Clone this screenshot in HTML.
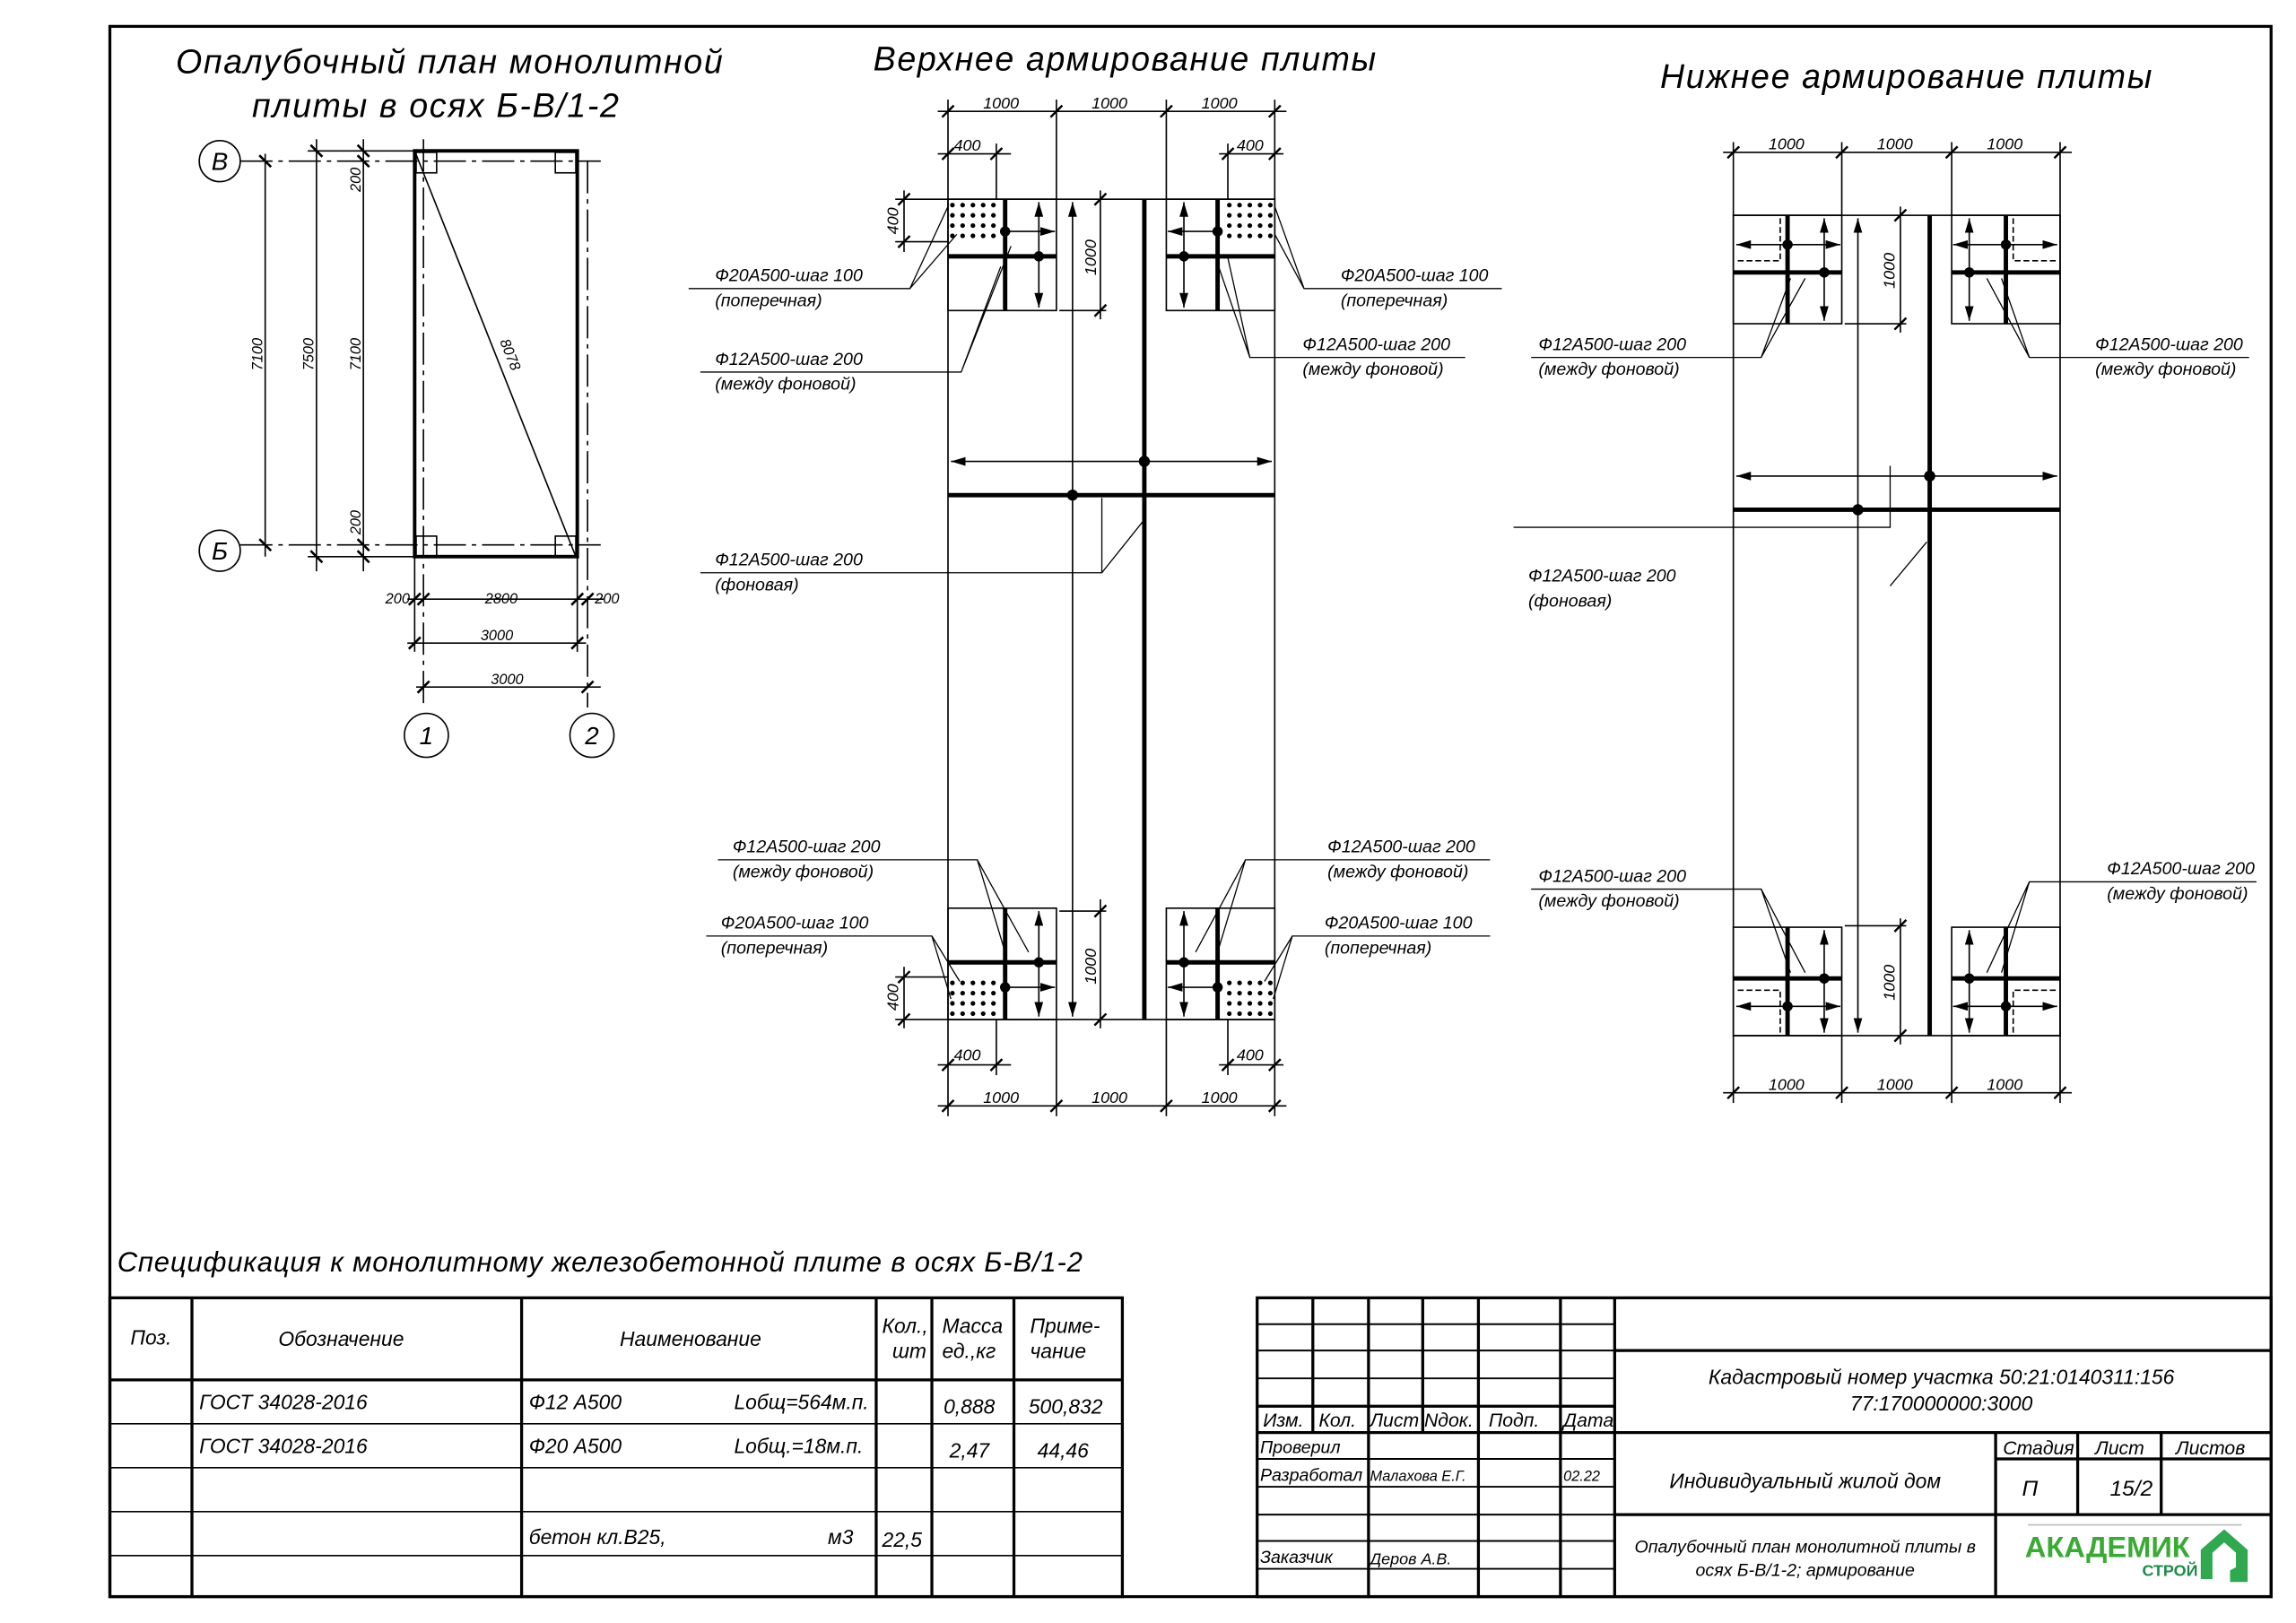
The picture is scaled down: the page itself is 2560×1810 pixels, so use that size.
<!DOCTYPE html>
<html><head><meta charset="utf-8"><style>
html,body{margin:0;padding:0;background:#fff}
svg{display:block}
text{font-family:"Liberation Sans",sans-serif;font-style:italic;fill:#000}
.t{font-size:12px}
.d{font-size:11px}
.h{font-size:23px;letter-spacing:1px}
.s{font-size:14px}
.r{font-family:"Liberation Serif",serif;font-style:normal;font-size:13px}
</style></head><body>
<svg width="2560" height="1810" viewBox="0 0 1567 1108" preserveAspectRatio="none" xmlns="http://www.w3.org/2000/svg">
<defs>
<marker id="a" viewBox="0 0 10 6" refX="10" refY="3" markerWidth="10" markerHeight="6" orient="auto-start-reverse" markerUnits="userSpaceOnUse"><path d="M0,0L10,3L0,6z"/></marker>
<g id="cm">
<rect x="647" y="136" width="74" height="76" fill="none" stroke="#000" stroke-width="1"/>
<g fill="#000">
<circle cx="650" cy="140" r="1.6"/><circle cx="657" cy="140" r="1.6"/><circle cx="664" cy="140" r="1.6"/><circle cx="671" cy="140" r="1.6"/><circle cx="678" cy="140" r="1.6"/>
<circle cx="650" cy="147" r="1.6"/><circle cx="657" cy="147" r="1.6"/><circle cx="664" cy="147" r="1.6"/><circle cx="671" cy="147" r="1.6"/><circle cx="678" cy="147" r="1.6"/>
<circle cx="650" cy="154" r="1.6"/><circle cx="657" cy="154" r="1.6"/><circle cx="664" cy="154" r="1.6"/><circle cx="671" cy="154" r="1.6"/><circle cx="678" cy="154" r="1.6"/>
<circle cx="650" cy="161" r="1.6"/><circle cx="657" cy="161" r="1.6"/><circle cx="664" cy="161" r="1.6"/><circle cx="671" cy="161" r="1.6"/><circle cx="678" cy="161" r="1.6"/>
<circle cx="686" cy="158" r="3.5"/><circle cx="709" cy="175" r="3.5"/></g>
<line x1="686" y1="136" x2="686" y2="212" stroke="#000" stroke-width="3"/>
<line x1="647" y1="175" x2="721" y2="175" stroke="#000" stroke-width="3"/>
<line x1="709" y1="138" x2="709" y2="210" stroke="#000" stroke-width="1" marker-start="url(#a)" marker-end="url(#a)"/>
<line x1="686" y1="158" x2="720" y2="158" stroke="#000" stroke-width="1" marker-end="url(#a)"/>
</g>
<g id="cr">
<rect x="1183" y="147" width="74" height="74" fill="none" stroke="#000" stroke-width="1"/>
<path d="M1215,149V178H1185" fill="none" stroke="#000" stroke-dasharray="4,2"/>
<line x1="1220" y1="147" x2="1220" y2="221" stroke="#000" stroke-width="3"/>
<line x1="1183" y1="186" x2="1257" y2="186" stroke="#000" stroke-width="3"/>
<circle cx="1220" cy="167" r="3.5"/><circle cx="1245" cy="186" r="3.5"/>
<line x1="1245" y1="149" x2="1245" y2="219" stroke="#000" marker-start="url(#a)" marker-end="url(#a)"/>
<line x1="1185" y1="167" x2="1256" y2="167" stroke="#000" marker-start="url(#a)" marker-end="url(#a)"/>
</g>
</defs>

<rect x="75" y="18" width="1475" height="1072" fill="none" stroke="#000" stroke-width="2"/>

<!-- LEFT DRAWING -->
<text class="h" x="120" y="50">Опалубочный план монолитной</text>
<text class="h" x="172" y="80">плиты в осях Б-В/1-2</text>
<g stroke="#000" fill="none" stroke-width="1">
<rect x="283" y="103" width="111" height="277" stroke-width="2.4"/>
<line x1="164" y1="110" x2="410" y2="110" stroke-dasharray="22,4,3,4"/>
<line x1="164" y1="372" x2="410" y2="372" stroke-dasharray="22,4,3,4"/>
<line x1="289" y1="95" x2="289" y2="483" stroke-dasharray="22,4,3,4"/>
<line x1="401" y1="110" x2="401" y2="483" stroke-dasharray="22,4,3,4"/>
<circle cx="150" cy="110" r="14"/><circle cx="150" cy="376" r="14"/>
<circle cx="291" cy="502" r="15"/><circle cx="404" cy="502" r="15"/>
<rect x="284" y="104" width="14" height="14"/><rect x="379" y="104" width="14" height="14"/>
<rect x="284" y="366" width="14" height="14"/><rect x="379" y="366" width="14" height="14"/>
<line x1="283" y1="103" x2="393" y2="380"/>
<line x1="181" y1="105" x2="181" y2="380"/>
<line x1="216" y1="95" x2="216" y2="390"/>
<line x1="248" y1="95" x2="248" y2="390"/>
<line x1="210" y1="103" x2="283" y2="103"/>
<line x1="210" y1="380" x2="283" y2="380"/>
<line x1="283" y1="380" x2="283" y2="445"/><line x1="394" y1="380" x2="394" y2="445"/>
<line x1="278" y1="409" x2="412" y2="409"/>
<line x1="278" y1="439" x2="400" y2="439"/>
<line x1="284" y1="469" x2="410" y2="469"/>
</g>
<g stroke="#000" stroke-width="1.6">
<path d="M177,106l8,8M177,368l8,8M212,99l8,8M212,376l8,8M244,99l8,8M244,106l8,8M244,368l8,8M244,376l8,8M279,413l8,-8M285,413l8,-8M390,413l8,-8M397,413l8,-8M279,443l8,-8M390,443l8,-8M285,473l8,-8M397,473l8,-8"/>
</g>
<text class="t" x="150" y="116" text-anchor="middle" style="font-size:17px">В</text>
<text class="t" x="150" y="382" text-anchor="middle" style="font-size:17px">Б</text>
<text class="t" x="291" y="508" text-anchor="middle" style="font-size:17px">1</text>
<text class="t" x="404" y="508" text-anchor="middle" style="font-size:17px">2</text>
<g class="d">
<text transform="translate(179,253) rotate(-90)" font-size="10">7100</text>
<text transform="translate(214,253) rotate(-90)" font-size="10">7500</text>
<text transform="translate(246,253) rotate(-90)" font-size="10">7100</text>
<text transform="translate(246,131) rotate(-90)" font-size="10">200</text>
<text transform="translate(246,365) rotate(-90)" font-size="10">200</text>
<text transform="translate(341,233) rotate(68)" font-size="10">8078</text>
<text x="263" y="412" font-size="10">200</text><text x="331" y="412" font-size="10">2800</text><text x="406" y="412" font-size="10">200</text>
<text x="328" y="437" font-size="10">3000</text><text x="335" y="467" font-size="10">3000</text>
</g>

<!-- MIDDLE DRAWING -->
<text class="h" x="596" y="48">Верхнее армирование плиты</text>
<g stroke="#000" fill="none">
<rect x="647" y="136" width="223" height="560"/>
<line x1="647" y1="68" x2="647" y2="136"/><line x1="721" y1="68" x2="721" y2="136"/><line x1="796" y1="68" x2="796" y2="136"/><line x1="870" y1="68" x2="870" y2="136"/>
<line x1="680" y1="98" x2="680" y2="136"/><line x1="838" y1="98" x2="838" y2="136"/>
<line x1="640" y1="76" x2="878" y2="76"/><line x1="640" y1="105" x2="690" y2="105"/><line x1="832" y1="105" x2="876" y2="105"/>
<line x1="647" y1="696" x2="647" y2="762"/><line x1="721" y1="696" x2="721" y2="762"/><line x1="796" y1="696" x2="796" y2="762"/><line x1="870" y1="696" x2="870" y2="762"/>
<line x1="680" y1="696" x2="680" y2="734"/><line x1="838" y1="696" x2="838" y2="734"/>
<line x1="640" y1="755" x2="878" y2="755"/><line x1="640" y1="727" x2="690" y2="727"/><line x1="832" y1="727" x2="876" y2="727"/>
<line x1="611" y1="136" x2="647" y2="136"/><line x1="611" y1="165" x2="647" y2="165"/><line x1="617" y1="130" x2="617" y2="172"/>
<line x1="611" y1="696" x2="647" y2="696"/><line x1="611" y1="667" x2="647" y2="667"/><line x1="617" y1="660" x2="617" y2="702"/>
<line x1="751" y1="130" x2="751" y2="218"/><line x1="723" y1="212" x2="755" y2="212"/>
<line x1="751" y1="614" x2="751" y2="702"/><line x1="723" y1="622" x2="755" y2="622"/>
<line x1="732" y1="138" x2="732" y2="694" marker-start="url(#a)" marker-end="url(#a)"/>
<line x1="649" y1="315" x2="868" y2="315" marker-start="url(#a)" marker-end="url(#a)"/>
</g>
<line x1="781" y1="136" x2="781" y2="696" stroke="#000" stroke-width="3"/>
<line x1="647" y1="338" x2="870" y2="338" stroke="#000" stroke-width="3"/>
<circle cx="781" cy="315" r="3.8"/><circle cx="732" cy="338" r="3.8"/>
<use href="#cm"/>
<use href="#cm" transform="matrix(-1 0 0 1 1517 0)"/>
<use href="#cm" transform="matrix(1 0 0 -1 0 832)"/>
<use href="#cm" transform="matrix(-1 0 0 -1 1517 832)"/>
<g stroke="#000" stroke-width="1.5">
<path d="M643,80l8,-8M717,80l8,-8M792,80l8,-8M866,80l8,-8M643,109l8,-8M676,109l8,-8M834,109l8,-8M866,109l8,-8M643,759l8,-8M717,759l8,-8M792,759l8,-8M866,759l8,-8M643,731l8,-8M676,731l8,-8M834,731l8,-8M866,731l8,-8M613,140l8,-8M613,169l8,-8M613,700l8,-8M613,671l8,-8M747,140l8,-8M747,216l8,-8M747,626l8,-8M747,700l8,-8"/>
</g>
<g class="d">
<text x="671" y="74">1000</text><text x="745" y="74">1000</text><text x="820" y="74">1000</text>
<text x="651" y="103">400</text><text x="844" y="103">400</text>
<text x="671" y="753">1000</text><text x="745" y="753">1000</text><text x="820" y="753">1000</text>
<text x="651" y="724">400</text><text x="844" y="724">400</text>
<text transform="translate(613,160) rotate(-90)">400</text>
<text transform="translate(613,690) rotate(-90)">400</text>
<text transform="translate(748,188) rotate(-90)">1000</text>
<text transform="translate(748,672) rotate(-90)">1000</text>
</g>
<g stroke="#000" fill="none" stroke-width="0.8">
<path d="M470,197H621L647,141M621,197L653,160"/>
<path d="M478,254H656L683,182M656,254L690,168"/>
<path d="M478,391H752V340M752,391L780,356"/>
<path d="M1025,197H890L870,141M890,197L870,160"/>
<path d="M1000,244H853L831,180M853,244L838,176"/>
<path d="M490,587H667L686,650M667,587L702,650"/>
<path d="M482,639H636L649,682M636,639L655,670"/>
<path d="M1017,587H850L831,650M850,587L816,650"/>
<path d="M1017,639H882L869,682M882,639L863,670"/>
</g>
<g class="t">
<text x="488" y="192">Ф20А500-шаг 100</text><text x="488" y="209">(поперечная)</text>
<text x="488" y="249">Ф12А500-шаг 200</text><text x="488" y="266">(между фоновой)</text>
<text x="488" y="386">Ф12А500-шаг 200</text><text x="488" y="403">(фоновая)</text>
<text x="915" y="192">Ф20А500-шаг 100</text><text x="915" y="209">(поперечная)</text>
<text x="889" y="239">Ф12А500-шаг 200</text><text x="889" y="256">(между фоновой)</text>
<text x="500" y="582">Ф12А500-шаг 200</text><text x="500" y="599">(между фоновой)</text>
<text x="492" y="634">Ф20А500-шаг 100</text><text x="492" y="651">(поперечная)</text>
<text x="906" y="582">Ф12А500-шаг 200</text><text x="906" y="599">(между фоновой)</text>
<text x="904" y="634">Ф20А500-шаг 100</text><text x="904" y="651">(поперечная)</text>
</g>

<!-- RIGHT DRAWING -->
<text class="h" x="1133" y="60">Нижнее армирование плиты</text>
<g stroke="#000" fill="none">
<rect x="1183" y="147" width="223" height="560"/>
<line x1="1183" y1="97" x2="1183" y2="147"/><line x1="1257" y1="97" x2="1257" y2="147"/><line x1="1332" y1="97" x2="1332" y2="147"/><line x1="1406" y1="97" x2="1406" y2="147"/>
<line x1="1176" y1="104" x2="1414" y2="104"/>
<line x1="1183" y1="707" x2="1183" y2="753"/><line x1="1257" y1="707" x2="1257" y2="753"/><line x1="1332" y1="707" x2="1332" y2="753"/><line x1="1406" y1="707" x2="1406" y2="753"/>
<line x1="1176" y1="746" x2="1414" y2="746"/>
<line x1="1297" y1="141" x2="1297" y2="227"/><line x1="1259" y1="221" x2="1301" y2="221"/>
<line x1="1297" y1="627" x2="1297" y2="713"/><line x1="1259" y1="632" x2="1301" y2="632"/>
<line x1="1268" y1="149" x2="1268" y2="705" marker-start="url(#a)" marker-end="url(#a)"/>
<line x1="1185" y1="325" x2="1404" y2="325" marker-start="url(#a)" marker-end="url(#a)"/>
</g>
<line x1="1317" y1="147" x2="1317" y2="707" stroke="#000" stroke-width="3"/>
<line x1="1183" y1="348" x2="1406" y2="348" stroke="#000" stroke-width="3"/>
<circle cx="1317" cy="325" r="3.8"/><circle cx="1268" cy="348" r="3.8"/>
<use href="#cr"/>
<use href="#cr" transform="matrix(-1 0 0 1 2589 0)"/>
<use href="#cr" transform="matrix(1 0 0 -1 0 854)"/>
<use href="#cr" transform="matrix(-1 0 0 -1 2589 854)"/>
<g stroke="#000" stroke-width="1.5">
<path d="M1179,108l8,-8M1253,108l8,-8M1328,108l8,-8M1402,108l8,-8M1179,750l8,-8M1253,750l8,-8M1328,750l8,-8M1402,750l8,-8M1293,151l8,-8M1293,225l8,-8M1293,636l8,-8M1293,711l8,-8"/>
</g>
<g class="d">
<text x="1207" y="102">1000</text><text x="1281" y="102">1000</text><text x="1356" y="102">1000</text>
<text x="1207" y="744">1000</text><text x="1281" y="744">1000</text><text x="1356" y="744">1000</text>
<text transform="translate(1293,197) rotate(-90)">1000</text>
<text transform="translate(1293,683) rotate(-90)">1000</text>
</g>
<g stroke="#000" fill="none" stroke-width="0.8">
<path d="M1045,244H1202L1222,190M1202,244L1232,190"/>
<path d="M1535,244H1385L1366,190M1385,244L1356,190"/>
<path d="M1033,360H1290V318M1290,400L1315,370"/>
<path d="M1045,607H1202L1222,664M1202,607L1232,664"/>
<path d="M1540,602H1385L1366,664M1385,602L1356,664"/>
</g>
<g class="t">
<text x="1050" y="239">Ф12А500-шаг 200</text><text x="1050" y="256">(между фоновой)</text>
<text x="1430" y="239">Ф12А500-шаг 200</text><text x="1430" y="256">(между фоновой)</text>
<text x="1043" y="397">Ф12А500-шаг 200</text><text x="1043" y="414">(фоновая)</text>
<text x="1050" y="602">Ф12А500-шаг 200</text><text x="1050" y="619">(между фоновой)</text>
<text x="1438" y="597">Ф12А500-шаг 200</text><text x="1438" y="614">(между фоновой)</text>
</g>

<!-- SPEC TABLE -->
<text x="80" y="868" style="font-size:19px;letter-spacing:0.5px">Спецификация к монолитному железобетонной плите в осях Б-В/1-2</text>
<g stroke="#000" fill="none" stroke-width="2">
<rect x="75" y="886" width="691" height="204"/>
<path d="M131,886V1090M356,886V1090M598,886V1090M636,886V1090M692,886V1090M75,942H766"/>
</g>
<g stroke="#000" fill="none" stroke-width="1">
<path d="M75,972H766M75,1002H766M75,1032H766M75,1062H766"/>
</g>
<g class="s">
<text x="89" y="918">Поз.</text><text x="190" y="919">Обозначение</text><text x="423" y="919">Наименование</text>
<text x="602" y="910">Кол.,</text><text x="609" y="927">шт</text>
<text x="643" y="910">Масса</text><text x="643" y="927">ед.,кг</text>
<text x="703" y="910">Приме-</text><text x="703" y="927">чание</text>
<text x="136" y="962">ГОСТ 34028-2016</text><text x="361" y="962">Ф12 А500</text><text x="501" y="962">Lобщ=564м.п.</text>
<text x="644" y="965">0,888</text><text x="702" y="965">500,832</text>
<text x="136" y="992">ГОСТ 34028-2016</text><text x="361" y="992">Ф20 А500</text><text x="501" y="992">Lобщ.=18м.п.</text>
<text x="648" y="995">2,47</text><text x="708" y="995">44,46</text>
<text x="361" y="1054">бетон кл.В25,</text><text x="565" y="1054">м3</text><text x="602" y="1056">22,5</text>
</g>

<!-- TITLE BLOCK -->
<g stroke="#000" fill="none" stroke-width="2">
<rect x="858" y="886" width="692" height="204"/>
<path d="M896,886V978M934,886V1090M971,886V978M1009,886V1090M1065,886V1090M1102,886V1090M858,960H1102M858,978H1550M1102,922H1550M1102,1034H1550M1362,978V1090M1418,978V1034M1475,978V1034M1362,996H1550"/>
</g>
<g stroke="#000" fill="none" stroke-width="1.2">
<path d="M858,904H1102M858,922H1102M858,941H1102M858,996H1102M858,1015H1102M858,1034H1102M858,1052H1102M858,1071H1102"/>
</g>
<g class="r">
<text x="862" y="974">Изм.</text><text x="900" y="974">Кол.</text><text x="935" y="974">Лист</text><text x="972" y="974">Nдок.</text><text x="1016" y="974">Подп.</text><text x="1067" y="974">Дата</text>
<text x="1367" y="993">Стадия</text><text x="1430" y="993">Лист</text><text x="1485" y="993">Листов</text>
</g>
<g style="font-size:12px">
<text x="860" y="992">Проверил</text><text x="860" y="1011">Разработал</text><text x="935" y="1011" style="font-size:10px">Малахова Е.Г.</text>
<text x="1067" y="1011" style="font-size:10px">02.22</text>
<text x="860" y="1067">Заказчик</text><text x="935" y="1068" style="font-size:11px">Деров А.В.</text>
</g>
<text x="1325" y="945" text-anchor="middle" style="font-size:14px">Кадастровый номер участка 50:21:0140311:156</text>
<text x="1325" y="963" text-anchor="middle" style="font-size:14px">77:170000000:3000</text>
<text x="1232" y="1016" text-anchor="middle" style="font-size:14px">Индивидуальный жилой дом</text>
<text x="1380" y="1021" style="font-size:15px">П</text><text x="1440" y="1021" style="font-size:15px">15/2</text>
<text x="1232" y="1060" text-anchor="middle" style="font-size:12px">Опалубочный план монолитной плиты в</text>
<text x="1232" y="1076" text-anchor="middle" style="font-size:12px">осях Б-В/1-2; армирование</text>
<line x1="1384" y1="1041" x2="1530" y2="1041" stroke="#bbb" stroke-width="1"/>
<text x="1382" y="1063" style="font-family:'Liberation Sans',sans-serif;font-style:normal;font-weight:bold;font-size:20px;fill:#3aaa35">АКАДЕМИК</text>
<text x="1462" y="1076" style="font-family:'Liberation Sans',sans-serif;font-style:normal;font-weight:bold;font-size:11px;fill:#1f8a4c">СТРОЙ</text>
<path d="M1502,1058l16,-14l16,14v22h-12v-8l4,-2v-10l-8,-7l-8,7v18h-8z" fill="#2fa84f"/>
</svg>
</body></html>
